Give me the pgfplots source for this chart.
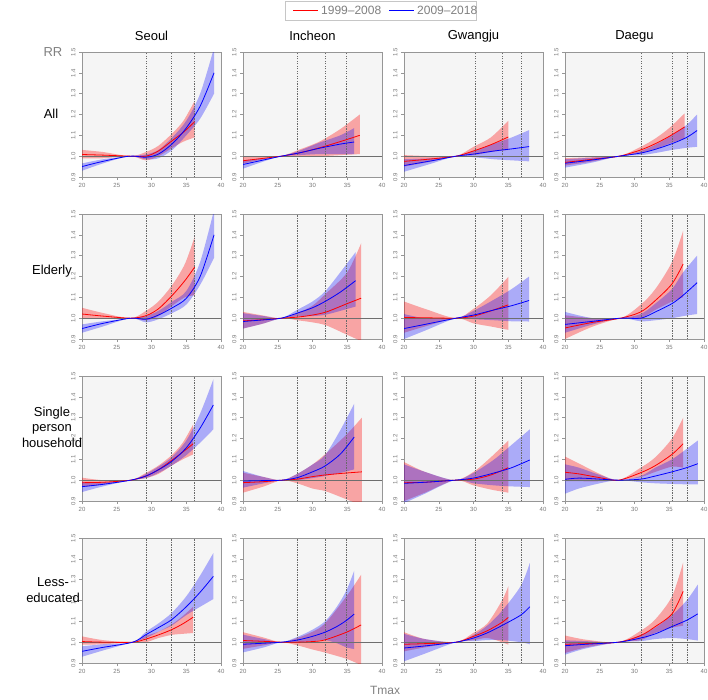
\documentclass[border=0pt]{standalone}
\usepackage{fontspec}
\setmainfont{Liberation Sans}
\usepackage{pgfplots}
\pgfplotsset{compat=1.18}
\usepackage{pgfplotstable}
\usepgfplotslibrary{fillbetween}
\definecolor{bgc}{RGB}{245,245,245}
\definecolor{axc}{RGB}{150,150,150}
\definecolor{tkc}{RGB}{120,120,120}
\definecolor{vlc}{RGB}{105,105,105}
\definecolor{hlc}{RGB}{110,110,110}

% ---------------- Row 1: All ----------------
\pgfplotstableread{
T l m u
20 0.99 1.008 1.03
23 0.99 1.005 1.02
27 1 1 1
29.2 0.98 1.0 1.02
31 1.0 1.025 1.05
33 1.04 1.075 1.11
34.6 1.07 1.115 1.17
36.2 1.09 1.165 1.265
}\SeoulAllR
\pgfplotstableread{
T l m u
20 0.93 0.95 0.965
23 0.965 0.975 0.985
26.8 1 1 1
29.2 0.985 0.995 1.008
31 0.99 1.01 1.03
33 1.03 1.06 1.09
35 1.1 1.135 1.17
37 1.18 1.24 1.30
39 1.30 1.40 1.52
}\SeoulAllB
\pgfplotstableread{
T l m u
20 0.965 0.978 0.995
23 0.985 0.99 0.998
25.5 1 1 1
28 1.0 1.015 1.03
31 1.0 1.04 1.07
34 1.005 1.07 1.13
36.8 1.01 1.10 1.20
}\IncheonAllR
\pgfplotstableread{
T l m u
20 0.94 0.96 0.98
23 0.975 0.982 0.99
25.5 1 1 1
28 1.005 1.015 1.025
31 1.01 1.038 1.065
34 1.01 1.058 1.10
36 1.01 1.068 1.135
}\IncheonAllB
\pgfplotstableread{
T l m u
20 0.95 0.975 1.005
24 0.975 0.987 1.0
27.5 1 1 1
30 1.005 1.025 1.045
32.5 1.02 1.055 1.09
35 1.03 1.092 1.17
}\GwangjuAllR
\pgfplotstableread{
T l m u
20 0.925 0.955 0.985
24 0.965 0.978 0.99
27.5 1 1 1
30 0.995 1.01 1.025
33 0.985 1.025 1.06
35.5 0.98 1.035 1.09
38 0.975 1.046 1.125
}\GwangjuAllB
\pgfplotstableread{
T l m u
20 0.955 0.97 0.99
24 0.975 0.985 0.995
27.8 1 1 1
30.9 1.015 1.03 1.045
33 1.035 1.06 1.085
35 1.06 1.095 1.135
37.2 1.085 1.14 1.205
}\DaeguAllR
\pgfplotstableread{
T l m u
20 0.945 0.966 0.985
24 0.97 0.982 0.993
27.8 1 1 1
30.9 1.005 1.015 1.025
33 1.015 1.033 1.055
35.4 1.03 1.06 1.10
37.5 1.04 1.09 1.15
39 1.045 1.123 1.20
}\DaeguAllB

% ---------------- Row 2: Elderly ----------------
\pgfplotstableread{
T l m u
20 1.0 1.02 1.05
23 1.0 1.01 1.025
27 1 1 1
29.2 0.99 1.012 1.035
31 1.01 1.045 1.08
33 1.06 1.11 1.16
34.8 1.10 1.18 1.26
36.2 1.11 1.245 1.39
}\SeoulEldR
\pgfplotstableread{
T l m u
20 0.93 0.95 0.97
23 0.96 0.975 0.985
27 1 1 1
29.2 0.98 0.995 1.01
31 0.995 1.015 1.035
33 1.025 1.05 1.08
35 1.065 1.095 1.13
37 1.16 1.20 1.27
39 1.29 1.40 1.52
}\SeoulEldB
\pgfplotstableread{
T l m u
20 0.95 0.987 1.03
23 0.975 0.993 1.012
25.5 1 1 1
27.8 0.99 1.005 1.025
30 0.98 1.015 1.06
32 0.965 1.03 1.12
35 0.92 1.07 1.22
37 0.89 1.096 1.36
}\IncheonEldR
\pgfplotstableread{
T l m u
20 0.95 0.984 1.024
23 0.975 0.992 1.01
25.5 1 1 1
27.8 1.008 1.024 1.04
30 1.01 1.05 1.08
31.8 1.016 1.08 1.128
34 1.035 1.125 1.22
36.2 1.056 1.18 1.317
}\IncheonEldB
\pgfplotstableread{
T l m u
20 0.93 1.003 1.08
23 0.96 1.002 1.045
27.5 1 1 1
30 0.975 1.01 1.045
32.5 0.96 1.035 1.11
35 0.944 1.064 1.198
}\GwangjuEldR
\pgfplotstableread{
T l m u
20 0.90 0.95 1.02
23 0.94 0.97 1.0
27.5 1 1 1
30 0.995 1.015 1.035
33 0.99 1.04 1.09
35.5 0.985 1.06 1.14
38 0.984 1.085 1.20
}\GwangjuEldB
\pgfplotstableread{
T l m u
20 0.90 0.953 1.014
24 0.96 0.98 1.0
28 1 1 1
30.9 1.0 1.03 1.065
33 1.04 1.085 1.14
35.4 1.08 1.165 1.27
37 1.10 1.26 1.42
}\DaeguEldR
\pgfplotstableread{
T l m u
20 0.93 0.97 1.03
24 0.97 0.985 1.0
28 1 1 1
30.9 0.985 1.0 1.02
33 0.99 1.03 1.07
35.4 1.0 1.07 1.14
37 1.01 1.11 1.22
39 1.02 1.17 1.30
}\DaeguEldB

% ---------------- Row 3: Single person household ----------------
\pgfplotstableread{
T l m u
20 0.967 0.988 1.012
23 0.98 0.99 1.0
27 1 1 1
29.2 1.01 1.02 1.035
31 1.03 1.05 1.07
32.9 1.07 1.095 1.12
34.5 1.10 1.135 1.18
36 1.124 1.175 1.268
}\SeoulSinR
\pgfplotstableread{
T l m u
20 0.943 0.969 0.991
23 0.97 0.98 0.99
27 1 1 1
29.2 1.01 1.02 1.03
31 1.035 1.05 1.065
32.9 1.07 1.09 1.11
35 1.12 1.155 1.19
37 1.18 1.25 1.32
38.9 1.244 1.361 1.484
}\SeoulSinB
\pgfplotstableread{
T l m u
20 0.94 0.988 1.036
23 0.97 0.993 1.015
25.6 1 1 1
27.8 0.985 1.005 1.03
30 0.96 1.017 1.075
31.8 0.948 1.025 1.124
34 0.92 1.032 1.19
35.5 0.9 1.036 1.24
37.1 0.88 1.04 1.30
}\IncheonSinR
\pgfplotstableread{
T l m u
20 0.964 0.996 1.044
23 0.985 0.998 1.015
25.6 1 1 1
27.8 1.0 1.012 1.03
30 1.01 1.04 1.075
31.8 1.02 1.068 1.12
34 1.035 1.125 1.24
36 1.052 1.207 1.367
}\IncheonSinB
\pgfplotstableread{
T l m u
20 0.9 0.988 1.087
23 0.94 0.99 1.04
27.3 1 1 1
30 0.975 1.005 1.04
32.5 0.955 1.025 1.11
35 0.94 1.06 1.19
}\GwangjuSinR
\pgfplotstableread{
T l m u
20 0.89 0.985 1.076
23 0.935 0.99 1.04
27.3 1 1 1
30 0.985 1.01 1.035
33 0.975 1.035 1.10
35.5 0.97 1.06 1.17
38.1 0.967 1.097 1.244
}\GwangjuSinB
\pgfplotstableread{
T l m u
20 0.996 1.038 1.113
22 0.995 1.03 1.08
25 0.995 1.012 1.03
27.7 1 1 1
30.9 1.015 1.036 1.06
33 1.04 1.07 1.11
35.4 1.065 1.124 1.20
37 1.06 1.175 1.30
}\DaeguSinR
\pgfplotstableread{
T l m u
20 0.935 1.004 1.076
22 0.96 1.01 1.06
25 0.985 1.005 1.025
27.7 1 1 1
30.9 0.99 1.005 1.02
33 0.985 1.02 1.06
35.4 0.982 1.04 1.10
37.5 0.98 1.06 1.15
39.1 0.98 1.079 1.19
}\DaeguSinB

% ---------------- Row 4: Less-educated ----------------
\pgfplotstableread{
T l m u
20 0.988 1.003 1.028
23 0.99 1.0 1.01
27.3 1 1 1
29.2 1.0 1.015 1.03
31 1.02 1.035 1.05
32.9 1.035 1.06 1.085
34.5 1.04 1.088 1.125
36 1.044 1.12 1.17
}\SeoulLesR
\pgfplotstableread{
T l m u
20 0.93 0.956 0.98
23 0.96 0.975 0.99
27.3 1 1 1
29.2 1.02 1.036 1.05
31 1.05 1.07 1.09
32.9 1.08 1.108 1.14
35 1.13 1.17 1.22
37 1.17 1.24 1.32
38.9 1.207 1.316 1.428
}\SeoulLesB
\pgfplotstableread{
T l m u
20 0.968 1.008 1.048
23 0.985 1.004 1.022
25.5 1 1 1
27.8 0.985 1.0 1.02
30 0.965 1.003 1.05
31.8 0.95 1.011 1.09
34.9 0.92 1.048 1.22
37 0.89 1.083 1.324
}\IncheonLesR
\pgfplotstableread{
T l m u
20 0.951 0.99 1.036
23 0.975 0.995 1.015
25.5 1 1 1
27.8 1.0 1.01 1.025
30 1.005 1.028 1.06
31.8 1.01 1.048 1.10
33.5 0.995 1.075 1.17
34.9 0.975 1.105 1.25
36 0.967 1.135 1.343
}\IncheonLesB
\pgfplotstableread{
T l m u
20 0.956 0.99 1.048
23 0.975 0.993 1.015
27.5 1 1 1
30 1.01 1.028 1.045
32 1.02 1.055 1.09
34.1 1.0 1.095 1.20
35 0.988 1.119 1.268
}\GwangjuLesR
\pgfplotstableread{
T l m u
20 0.908 0.972 1.04
23 0.945 0.982 1.015
27.5 1 1 1
30 1.005 1.02 1.035
32 1.01 1.045 1.08
34.1 1.01 1.08 1.15
36.8 1.0 1.13 1.27
38.1 0.99 1.17 1.38
}\GwangjuLesB
\pgfplotstableread{
T l m u
20 0.948 0.99 1.032
23 0.975 0.993 1.012
27.7 1 1 1
30.9 1.01 1.032 1.055
33 1.045 1.075 1.11
35.4 1.07 1.136 1.22
37 1.079 1.244 1.383
}\DaeguLesR
\pgfplotstableread{
T l m u
20 0.94 0.983 1.009
23 0.97 0.99 1.005
27.7 1 1 1
30.9 1.005 1.02 1.035
33 1.015 1.04 1.07
35.4 1.02 1.075 1.13
37.5 1.015 1.105 1.20
39.1 1.008 1.136 1.276
}\DaeguLesB

\pgfplotsset{
  panel/.style={
    anchor=north west, scale only axis, width=139pt, height=125pt,
    xmin=20, xmax=40, ymin=0.9, ymax=1.5,
    axis background/.style={fill=bgc},
    axis line style={axc, line width=0.6pt},
    xtick={20,25,30,35,40}, xticklabels={20,25,30,35,40},
    ytick={0.9,1.0,1.1,1.2,1.3,1.4,1.5},
    yticklabels={0.9,1.0,1.1,1.2,1.3,1.4,1.5},
    xtick pos=lower, ytick pos=left,
    tick align=outside, major tick length=3pt,
    tick style={axc, line width=0.5pt},
    ticklabel style={font=\fontsize{6}{7}\selectfont, text=tkc},
    yticklabel style={rotate=90, anchor=south},
    xticklabel style={anchor=north},
  },
}

% #1 x, #2 y, #3-#5 vertical lines, #6 red table, #7 blue table
\newcommand{\panel}[7]{%
\begin{axis}[panel, at={(#1pt,-#2pt)}]
\addplot[name path=ru, draw=none, smooth] table[x=T,y=u]{#6};
\addplot[name path=rl, draw=none, smooth] table[x=T,y=l]{#6};
\addplot[fill=red, fill opacity=0.33, draw=none] fill between[of=ru and rl];
\addplot[name path=bu, draw=none, smooth] table[x=T,y=u]{#7};
\addplot[name path=bl, draw=none, smooth] table[x=T,y=l]{#7};
\addplot[fill=blue, fill opacity=0.3, draw=none] fill between[of=bu and bl];
\addplot[hlc, line width=0.6pt] coordinates {(20,1) (40,1)};
\addplot[vlc, line width=0.45pt, dash pattern=on 1.3pt off 1.2pt] coordinates {(#3,0.9) (#3,1.5)};
\addplot[vlc, line width=0.45pt, dash pattern=on 1.3pt off 1.2pt] coordinates {(#4,0.9) (#4,1.5)};
\addplot[vlc, line width=0.45pt, dash pattern=on 1.3pt off 1.2pt] coordinates {(#5,0.9) (#5,1.5)};
\addplot[red, line width=0.8pt, smooth] table[x=T,y=m]{#6};
\addplot[blue, line width=0.8pt, smooth] table[x=T,y=m]{#7};
\end{axis}}

\begin{document}
\begin{tikzpicture}
% row 1
\panel{82}{52}{29.2}{32.9}{36.1}{\SeoulAllR}{\SeoulAllB}
\panel{243}{52}{27.8}{31.8}{34.9}{\IncheonAllR}{\IncheonAllB}
\panel{404}{52}{30.2}{34.1}{36.8}{\GwangjuAllR}{\GwangjuAllB}
\panel{565}{52}{30.9}{35.4}{37.6}{\DaeguAllR}{\DaeguAllB}
% row 2
\panel{82}{214}{29.2}{32.9}{36.1}{\SeoulEldR}{\SeoulEldB}
\panel{243}{214}{27.8}{31.8}{34.9}{\IncheonEldR}{\IncheonEldB}
\panel{404}{214}{30.2}{34.1}{36.8}{\GwangjuEldR}{\GwangjuEldB}
\panel{565}{214}{30.9}{35.4}{37.6}{\DaeguEldR}{\DaeguEldB}
% row 3
\panel{82}{376}{29.2}{32.9}{36.1}{\SeoulSinR}{\SeoulSinB}
\panel{243}{376}{27.8}{31.8}{34.9}{\IncheonSinR}{\IncheonSinB}
\panel{404}{376}{30.2}{34.1}{36.8}{\GwangjuSinR}{\GwangjuSinB}
\panel{565}{376}{30.9}{35.4}{37.6}{\DaeguSinR}{\DaeguSinB}
% row 4
\panel{82}{538}{29.2}{32.9}{36.1}{\SeoulLesR}{\SeoulLesB}
\panel{243}{538}{27.8}{31.8}{34.9}{\IncheonLesR}{\IncheonLesB}
\panel{404}{538}{30.2}{34.1}{36.8}{\GwangjuLesR}{\GwangjuLesB}
\panel{565}{538}{30.9}{35.4}{37.6}{\DaeguLesR}{\DaeguLesB}

% column titles
\begin{scope}[every node/.style={font=\fontsize{13}{15}\selectfont}]
\node at (151.5pt,-36pt) {Seoul};
\node at (312.5pt,-36pt) {Incheon};
\node at (473.5pt,-36pt) {Gwangju};
\node at (634.5pt,-36pt) {Daegu};
\node at (51pt,-114pt) {All};
\node at (52pt,-271pt) {Elderly};
\node[align=center, font=\fontsize{13}{15.5}\selectfont] at (52pt,-427pt) {Single\\person\\household};
\node[align=center, font=\fontsize{13}{15.5}\selectfont] at (53pt,-590pt) {Less-\\educated};
\node[text=gray] at (53pt,-52.5pt) {RR};
\end{scope}
\node[text=gray, font=\fontsize{12}{14}\selectfont] at (385pt,-690pt) {Tmax};

% legend
\draw[gray!45, fill=white, line width=0.6pt] (285pt,-1pt) rectangle (476pt,-20pt);
\draw[red, line width=1.3pt] (293pt,-10.5pt) -- (318pt,-10.5pt);
\node[anchor=west, text=gray, inner sep=0pt, font=\fontsize{12}{14}\selectfont] at (321pt,-10.5pt) {1999–2008};
\draw[blue, line width=1.3pt] (389pt,-10.5pt) -- (414pt,-10.5pt);
\node[anchor=west, text=gray, inner sep=0pt, font=\fontsize{12}{14}\selectfont] at (417pt,-10.5pt) {2009–2018};

\pgfresetboundingbox
\useasboundingbox (0pt,0pt) rectangle (708pt,-699pt);
\end{tikzpicture}
\end{document}
